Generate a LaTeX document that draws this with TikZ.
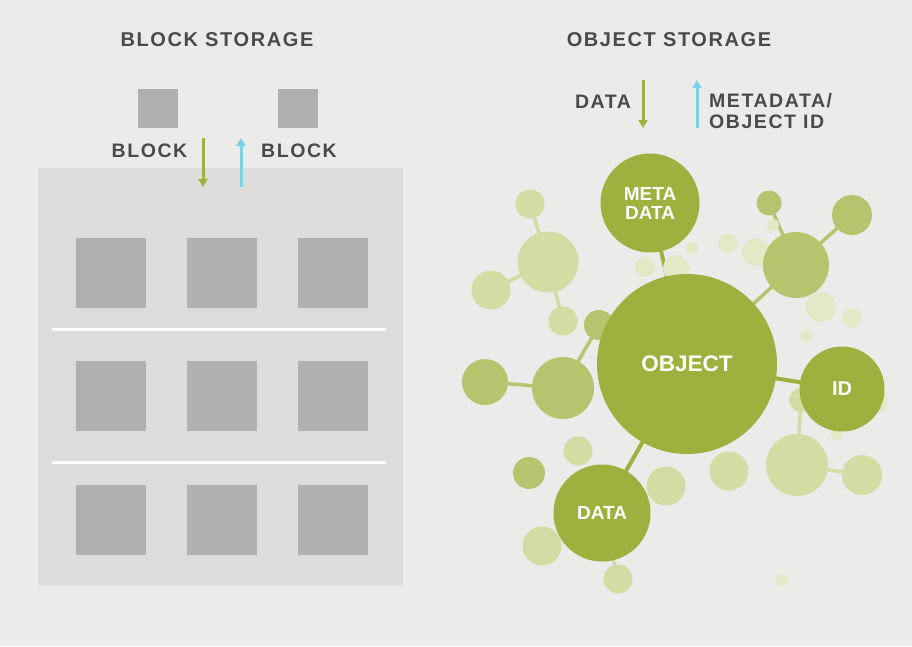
\documentclass[tikz,border=0pt]{standalone}
\usepackage{fontspec}
\setmainfont{Liberation Sans}
\newfontfamily\lab[LetterSpace=8]{Liberation Sans}
\usetikzlibrary{arrows.meta}
\definecolor{bgc}{HTML}{EBEBEA}
\definecolor{panel}{HTML}{DCDCDB}
\definecolor{sq}{HTML}{B0B0B0}
\definecolor{txt}{HTML}{4A4A4A}
\definecolor{gmain}{HTML}{9CB13E}
\definecolor{gmed}{HTML}{B4C56D}
\definecolor{glight}{HTML}{D3DCA3}
\definecolor{gfaint}{HTML}{E3E8C7}
\definecolor{arrb}{HTML}{80CFE8}
\pgfdeclarelayer{bgl}
\pgfdeclarelayer{back}
\pgfsetlayers{bgl,back,main}
\begin{document}
\begin{tikzpicture}[x=1pt,y=-1pt,
  title/.style={font=\lab\bfseries\fontsize{20}{22}\selectfont, text=txt, inner sep=0},
  lbl/.style={font=\lab\bfseries\fontsize{19.5}{21}\selectfont, text=txt, inner sep=0},
  blk/.style={rectangle, fill=sq, inner sep=0, minimum size=70pt},
  tblk/.style={rectangle, fill=sq, inner sep=0, minimum width=40pt, minimum height=39pt},
  bub/.style={circle, inner sep=0, minimum size=#1},
  faint/.style={bub=#1, fill=gfaint},
  light/.style={bub=#1, fill=glight},
  med/.style={bub=#1, fill=gmed},
  big/.style={bub=#1, fill=gmain, text=white, font=\bfseries\fontsize{19}{19}\selectfont, align=center},
  lmain/.style={draw=gmain, line width=4pt},
  lmed/.style={draw=gmed, line width=3.5pt},
  llight/.style={draw=glight, line width=3.5pt},
  arr/.style={line width=3pt, -{Triangle[length=8pt,width=9pt]}},
]
\begin{pgfonlayer}{bgl}
\fill[bgc] (0,0) rectangle (912,646);
\end{pgfonlayer}

% ---------- block storage ----------
\node[title] (t1) at (217,40) {BLOCK STORAGE};
\node[rectangle, fill=panel, inner sep=0, minimum width=365pt, minimum height=418pt] (panel) at (220.5,377) {};
\node[tblk] (tb1) at (158,108.5) {};
\node[tblk] (tb2) at (298,108.5) {};
\node[lbl] (bl1) at (149.5,151) {BLOCK};
\node[lbl] (bl2) at (299,151) {BLOCK};
\coordinate (ga1) at (203,138);
\coordinate (ga2) at (203,187);
\coordinate (ba1) at (241,187);
\coordinate (ba2) at (241,138);
\draw[arr, gmain] (ga1) -- (ga2);
\draw[arr, arrb] (ba1) -- (ba2);
\foreach \r/\y in {1/273,2/396,3/520}{
  \foreach \c/\x in {1/111,2/222,3/333}{
    \node[blk] (b\r\c) at (\x,\y) {};
  }
}
\coordinate (w1a) at (52,329); \coordinate (w1b) at (386,329);
\coordinate (w2a) at (52,462); \coordinate (w2b) at (386,462);
\draw[white, line width=3pt] (w1a) -- (w1b);
\draw[white, line width=3pt] (w2a) -- (w2b);

% ---------- object storage ----------
\node[title] (t2) at (669,40) {OBJECT STORAGE};
\node[lbl] (dl) at (603,102) {DATA};
\node[lbl, anchor=west, align=left] (ml) at (709,111) {METADATA/\\OBJECT ID};
\coordinate (og1) at (643,80);
\coordinate (og2) at (643,128);
\coordinate (ob1) at (697,128);
\coordinate (ob2) at (697,80);
\draw[arr, gmain] (og1) -- (og2);
\draw[arr, arrb] (ob1) -- (ob2);

% faint circles
\node[faint=20pt] (f1) at (728,243) {};
\node[faint=28pt] (f2) at (756,252) {};
\node[faint=12pt] (f3) at (773,225) {};
\node[faint=12pt] (f4) at (692,248) {};
\node[faint=20pt] (f5) at (645,267) {};
\node[faint=26pt] (f6) at (676,268) {};
\node[faint=30pt] (f7) at (821,307) {};
\node[faint=20pt] (f8) at (852,318) {};
\node[faint=12pt] (f9) at (806,336) {};
\node[light=24pt] (f10) at (801,400) {};
\node[faint=12pt] (f11) at (837,434) {};
\node[faint=12pt] (f12) at (782,580) {};
\node[faint=24pt] (f13) at (876,402) {};

% light circles
\node[light=29pt] (l1) at (530,204) {};
\node[light=61pt] (l2) at (548,262) {};
\node[light=39pt] (l3) at (491,290) {};
\node[light=29pt] (l4) at (563,321) {};
\node[light=62pt] (l21) at (797,465) {};
\node[light=40pt] (l22) at (862,475) {};
\node[light=39pt] (l24) at (729,471) {};
\node[light=39pt] (l25) at (666,486) {};
\node[light=29pt] (l26) at (578,451) {};
\node[light=39pt] (l28) at (542,546) {};
\node[light=29pt] (l29) at (618,579) {};

% medium circles
\node[med=30pt] (m5) at (599,325) {};
\node[med=46pt] (m6) at (485,382) {};
\node[med=62pt] (m7) at (563,388) {};
\node[med=25pt] (m8) at (769,203) {};
\node[med=40pt] (m9) at (852,215) {};
\node[med=66pt] (m10) at (796,265) {};
\node[med=32pt] (m27) at (529,473) {};

% main circles
\node[big=180pt, font=\bfseries\fontsize{22.5}{22}\selectfont] (obj) at (687,364) {OBJECT};
\node[big=99pt] (meta) at (650,203) {META\\DATA};
\node[big=85pt, font=\bfseries\fontsize{20}{20}\selectfont] (id) at (842,389) {ID};
\node[big=97pt] (data) at (602,513) {DATA};

% connectors
\begin{pgfonlayer}{back}
\draw[lmain] (obj.center) -- (meta.center);
\draw[lmain] (obj.center) -- (id.center);
\draw[lmain] (obj.center) -- (data.center);
\draw[lmed] (m10.center) -- (obj.center);
\draw[lmed] (m10.center) -- (m8.center);
\draw[lmed] (m10.center) -- (m9.center);
\draw[lmed] (m7.center) -- (m6.center);
\draw[lmed] (m7.center) -- (m5.center);
\draw[llight] (l2.center) -- (l1.center);
\draw[llight] (l2.center) -- (l3.center);
\draw[llight] (l2.center) -- (l4.center);
\draw[llight] (l21.center) -- (l22.center);
\draw[llight] (l21.center) -- (f10.center);
\draw[llight] (data.center) -- (l29.center);
\end{pgfonlayer}
\end{tikzpicture}
\end{document}
